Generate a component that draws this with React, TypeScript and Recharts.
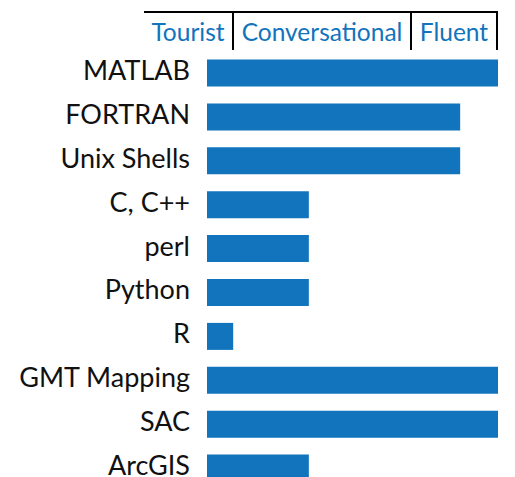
import { Bar, BarChart, XAxis, YAxis } from "recharts";

const languages = ["MATLAB", "FORTRAN", "Unix Shells", "C, C++", "perl", "Python", "R", "GMT Mapping", "SAC", "ArcGIS"];
const fluency = [100, 87, 87, 35, 35, 35, 9, 100, 100, 35];
const levels = ["Tourist", "Conversational", "Fluent"];

const BLUE = "#1174bc";
const FONT = "Lato, 'Open Sans', sans-serif";

const rows = languages.map((name, i) => ({ name, value: fluency[i] }));

// header cells: left edge and width in px
const cells = [
  { left: 144, width: 90 },
  { left: 234, width: 178 },
  { left: 412, width: 86 },
];

function Header() {
  return (
    <div style={{ position: "absolute", left: 0, top: 0, width: 515, height: 52 }}>
      <div style={{ position: "absolute", left: 144, top: 11, width: 354, height: 2, background: "#000" }} />
      {cells.map((c, i) => (
        <div
          key={levels[i]}
          style={{
            position: "absolute",
            left: c.left,
            top: 11,
            width: c.width,
            height: 39,
            borderRight: "2px solid #000",
            boxSizing: "border-box",
            color: BLUE,
            fontFamily: FONT,
            fontSize: 24.5,
            lineHeight: "41px",
            textAlign: "center",
            whiteSpace: "nowrap",
          }}
        >
          {levels[i]}
        </div>
      ))}
    </div>
  );
}

// category label, nudged a little above the bar centre like the original
function LangTick({ x, y, payload }: any) {
  return (
    <text x={x} y={y} dy={6.5} textAnchor="end" fill="#111" fontSize={27} fontFamily={FONT}>
      {payload.value}
    </text>
  );
}

export default function App() {
  return (
    <div style={{ position: "absolute", left: 0, top: 0, width: 515, height: 477, overflow: "hidden", background: "#fff" }}>
      <Header />
      <BarChart
        width={515}
        height={500}
        data={rows}
        layout="vertical"
        margin={{ top: 51.5, right: 17, left: 0, bottom: 9.5 }}
        style={{ position: "absolute", left: 0, top: 0 }}
      >
        <XAxis type="number" domain={[0, 100]} hide />
        <YAxis
          type="category"
          dataKey="name"
          width={207}
          tickLine={false}
          axisLine={false}
          tickSize={0}
          tickMargin={17}
          interval={0}
          tick={<LangTick />}
        />
        <Bar dataKey="value" fill={BLUE} barSize={27} isAnimationActive={false} />
      </BarChart>
    </div>
  );
}
